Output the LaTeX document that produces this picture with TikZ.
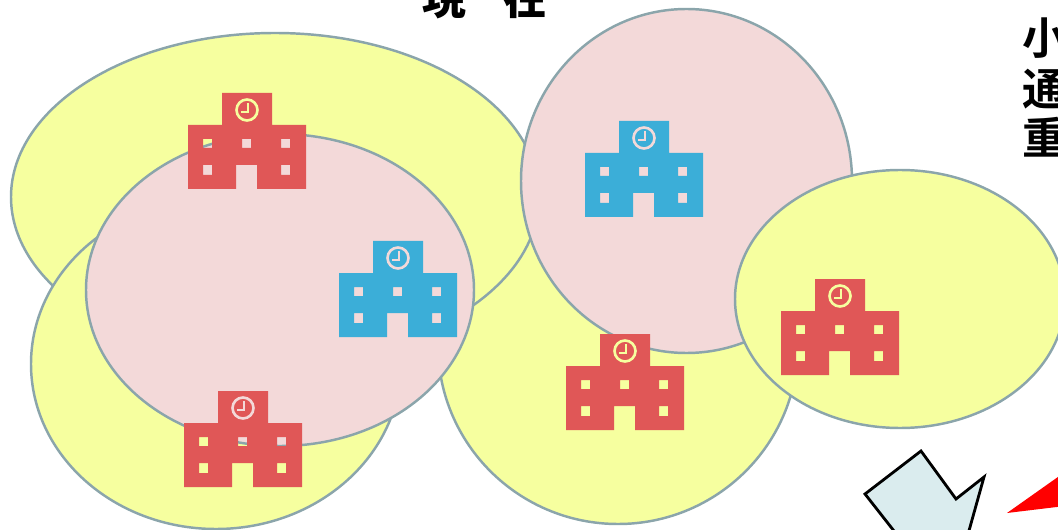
\documentclass[tikz,border=0pt]{standalone}
\usepackage{fontspec}
\setmainfont{Noto Sans CJK JP}[BoldFont={* Bold}]
\newfontfamily\titlefont{Noto Sans CJK JP Black}
\definecolor{areayellow}{HTML}{F6FF9F}
\definecolor{areapink}{HTML}{F3D9D9}
\definecolor{arealine}{HTML}{8BA5AB}
\definecolor{schoolred}{HTML}{E05757}
\definecolor{schoolblue}{HTML}{3BAED8}
\definecolor{arrowblue}{HTML}{DAECEE}
\tikzset{
  area/.style={draw=arealine, line width=1.4pt},
  sidetext/.style={font=\bfseries\fontsize{25}{25}\selectfont, anchor=base west, inner sep=0pt},
  school/.pic={
    \fill[pic actions, even odd rule] (34,0) -- (84,0) -- (84,32) -- (118,32) -- (118,96) -- (69,96) -- (69,72) -- (48,72) -- (48,96) -- (0,96) -- (0,32) -- (34,32) -- cycle
      (15,46) rectangle (24,55) (54,46) rectangle (63,55) (93,46) rectangle (102,55)
      (15,72) rectangle (24,82) (93,72) rectangle (102,82);
    \draw[draw=clockline, line width=1.5pt] (59,17) circle [x radius=10.5, y radius=10.5];
    \draw[draw=clockline, line width=1.2pt] (60,10) -- (60,19) -- (53,19);
  },
}
\begin{document}
\begin{tikzpicture}[x=0.02cm,y=-0.02cm]
  \useasboundingbox (0,0) rectangle (1058,530);
  \clip (0,0) rectangle (1058,530);
  % areas
  \draw[area, fill=areayellow] (618,345) ellipse (180 and 179);
  \draw[area, fill=areayellow] (275,197) ellipse (264 and 164);
  \draw[area, fill=areayellow] (216,364) ellipse (185 and 165);
  \draw[area, fill=areapink] (280,290) ellipse (194 and 156);
  \draw[area, fill=areapink] (686.5,181) ellipse (165.5 and 172);
  \draw[area, fill=areayellow] (900,299) ellipse (165 and 129);
  % schools
  \colorlet{clockline}{areayellow}
  \pic[fill=schoolred] at (188,93) {school};
  \pic[fill=schoolred] at (566,334) {school};
  \pic[fill=schoolred] at (781,279) {school};
  \colorlet{clockline}{areapink}
  \pic[fill=schoolred] at (184,391) {school};
  \pic[fill=schoolblue] at (339,241) {school};
  \pic[fill=schoolblue] at (585,121) {school};
  % arrows
  \draw[fill=arrowblue, line width=1.6pt, line join=miter] (921,451) -- (865,494) -- (905,545) -- (965,545) -- (984,477) -- (956,499) -- cycle;
  \fill[red] (1007,513) -- (1065,472) -- (1065,506) -- cycle;
  % text
  \node[font=\titlefont\fontsize{25}{25}\selectfont, anchor=base] (title) at (485,15) {現\hspace{0.85em}在};
  \node[sidetext] (lineone) at (1022,55) {小};
  \node[sidetext] (linetwo) at (1022,106) {通};
  \node[sidetext] (linethree) at (1022,155) {重};
\end{tikzpicture}
\end{document}
